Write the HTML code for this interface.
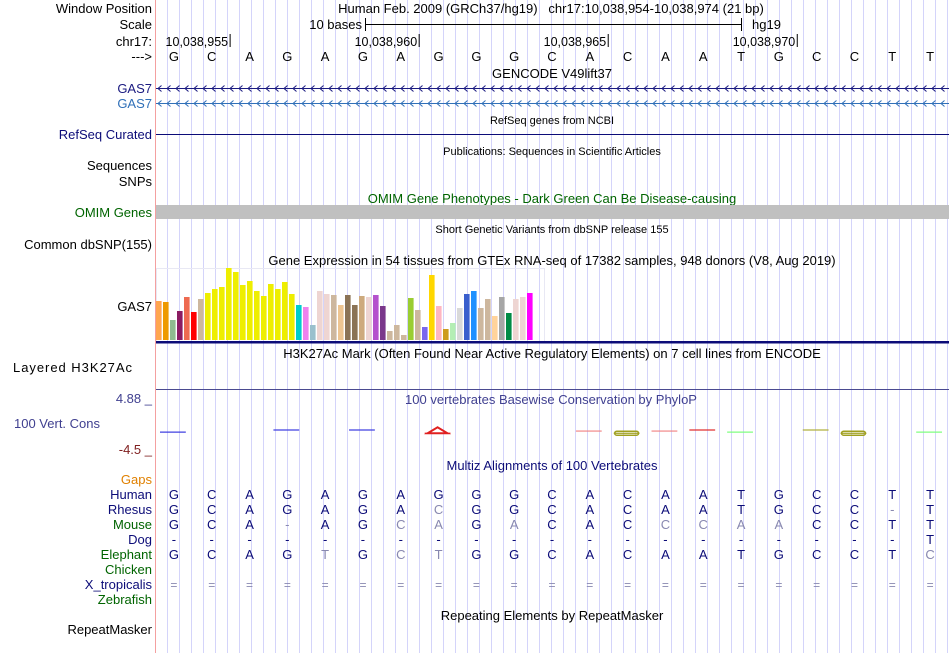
<!DOCTYPE html>
<html><head><meta charset="utf-8">
<style>
body{margin:0;background:#fff;}
svg{display:block;font-family:"Liberation Sans",Arial,sans-serif;}
</style></head>
<body>
<svg id="c" width="950" height="653" viewBox="0 0 950 653" xmlns="http://www.w3.org/2000/svg">
<g id="grid"></g>
<line x1="155.5" y1="0" x2="155.5" y2="653" stroke="#f4a0a0"/>
<g font-size="13" text-anchor="end" fill="#000">
<text x="152" y="13">Window Position</text>
<text x="152" y="29">Scale</text>
<text x="152" y="46">chr17:</text>
<text x="152" y="61">---&gt;</text>
<text x="152" y="93" fill="#1a1a80">GAS7</text>
<text x="152" y="108" fill="#3070b8">GAS7</text>
<text x="152" y="139" fill="#0c0c78">RefSeq Curated</text>
<text x="152" y="170">Sequences</text>
<text x="152" y="186">SNPs</text>
<text x="152" y="217" fill="#006400">OMIM Genes</text>
<text x="152" y="249">Common dbSNP(155)</text>
<text x="152" y="311">GAS7</text>
<text x="132" y="372" textLength="119">Layered H3K27Ac</text>
<text x="152" y="403" fill="#404090">4.88 _</text>
<text x="100" y="428" fill="#404090">100 Vert. Cons</text>
<text x="152" y="454" fill="#802020">-4.5 _</text>
<text x="152" y="484" fill="#e08000">Gaps</text>
<text x="152" y="499" fill="#0c0c78">Human</text>
<text x="152" y="514" fill="#0c0c78">Rhesus</text>
<text x="152" y="529" fill="#006400">Mouse</text>
<text x="152" y="544" fill="#0c0c78">Dog</text>
<text x="152" y="559" fill="#006400">Elephant</text>
<text x="152" y="574" fill="#006400">Chicken</text>
<text x="152" y="589" fill="#0c0c78">X_tropicalis</text>
<text x="152" y="604" fill="#006400">Zebrafish</text>
<text x="152" y="634">RepeatMasker</text>
</g>
<g font-size="13" text-anchor="middle">
<text x="551" y="13">Human Feb. 2009 (GRCh37/hg19)&#160;&#160;&#160;chr17:10,038,954-10,038,974 (21 bp)</text>
<text x="552" y="78">GENCODE V49lift37</text>
<text x="552" y="124" font-size="11">RefSeq genes from NCBI</text>
<text x="552" y="155" font-size="11">Publications: Sequences in Scientific Articles</text>
<text x="552" y="203" fill="#006400">OMIM Gene Phenotypes - Dark Green Can Be Disease-causing</text>
<text x="552" y="233" font-size="11">Short Genetic Variants from dbSNP release 155</text>
<text x="552" y="265">Gene Expression in 54 tissues from GTEx RNA-seq of 17382 samples, 948 donors (V8, Aug 2019)</text>
<text x="552" y="358">H3K27Ac Mark (Often Found Near Active Regulatory Elements) on 7 cell lines from ENCODE</text>
<text x="551" y="404" fill="#404090">100 vertebrates Basewise Conservation by PhyloP</text>
<text x="552" y="470" fill="#0c0c78">Multiz Alignments of 100 Vertebrates</text>
<text x="552" y="620">Repeating Elements by RepeatMasker</text>
</g>
<text x="362" y="29" font-size="13" text-anchor="end">10 bases</text>
<line x1="365" y1="24.5" x2="742" y2="24.5" stroke="#000"/>
<line x1="365.5" y1="18" x2="365.5" y2="31" stroke="#000"/>
<line x1="741.5" y1="18" x2="741.5" y2="31" stroke="#000"/>
<text x="752" y="29" font-size="13">hg19</text>
<rect x="156" y="205" width="793" height="14" fill="#c0c0c0"/>
<line x1="156" y1="134.5" x2="949" y2="134.5" stroke="#0c0c78"/>
<line x1="156" y1="389.5" x2="949" y2="389.5" stroke="#4a4a90"/>
<rect x="156.5" y="268.5" width="388" height="73" fill="none" stroke="#e8e8f4"/>
<rect x="156" y="341" width="793" height="2.5" fill="#0c0c78"/>
<g id="ruler"></g><g id="genes"></g><g id="gtex"></g><g id="cons"></g><g id="maf"></g>
</svg>
<script>
const NS='http://www.w3.org/2000/svg';
const bases=['G','C','A','G','A','G','A','G','G','G','C','A','C','A','A','T','G','C','C','T','T'];
const rhesus=['G','C','A','G','A','G','A','C','G','G','C','A','C','A','A','T','G','C','C','-','T'];
const mouse=['G','C','A','-','A','G','C','A','G','A','C','A','C','C','C','A','A','C','C','T','T'];
const dog=['-','-','-','-','-','-','-','-','-','-','-','-','-','-','-','-','-','-','-','-','T'];
const elephant=['G','C','A','G','T','G','C','T','G','G','C','A','C','A','A','T','G','C','C','T','C'];
const coordLabels=['10,038,955','10,038,960','10,038,965','10,038,970'];
const coordBaseIdx=[1,6,11,16];
const gtexValues=[117,114,60,87,129,84,123,141,153,159,216,204,165,177,147,132,168,153,174,138,105,99,45,147,138,135,105,135,105,132,129,135,102,27,45,15,126,90,39,195,102,33,51,96,138,147,96,123,72,129,81,123,129,141];
const gtexColors=['#FFA54F','#EE9A00','#8FBC8F','#8B1C62','#EE6A50','#FF0000','#CDB79E','#EEEE00','#EEEE00','#EEEE00','#EEEE00','#EEEE00','#EEEE00','#EEEE00','#EEEE00','#EEEE00','#EEEE00','#EEEE00','#EEEE00','#EEEE00','#00CDCD','#EE82EE','#9AC0CD','#EED5D2','#EED5D2','#CDB79E','#EEC591','#8B7355','#8B7355','#CDAA7D','#EED5D2','#B452CD','#7A378B','#CDB79E','#CDB79E','#CDB79E','#9ACD32','#CDB79E','#7A67EE','#FFD700','#FFB6C1','#CD9B1D','#B4EEB4','#D9D9D9','#3A5FCD','#1E90FF','#CDB79E','#CDB79E','#FFD39B','#A6A6A6','#008B45','#EED5D2','#EED5D2','#FF00FF'];
const consBase=[0,3,5,7,11,12,13,14,15,17,18,20];
const consValue=[-1.4,-1.0,-1.0,-1.6,-1.2,-1.6,-1.2,-1.0,-1.4,-1.0,-1.6,-1.4];
const consColor=['#4040e0','#4040e0','#4040e0','#e02020','#f08080','#a0a020','#f08080','#e03030','#80ff80','#b0b040','#a0a020','#80ff80'];

const X0=155, BW=(949-155)/21;
const bx=i=>X0+BW*(i+0.5);
function mk(tag,attrs,parent,txt){const e=document.createElementNS(NS,tag);for(const k in attrs)e.setAttribute(k,attrs[k]);if(txt!=null)e.textContent=txt;document.getElementById(parent).appendChild(e);return e;}

for(let x=167;x<950;x+=12){
 const l=mk('line',{x1:x+0.5,y1:0,x2:x+0.5,y2:653,stroke:'#d4d4fa'},'grid');
 
 
}
coordLabels.forEach((t,k)=>{
 const x=X0+BW*coordBaseIdx[k]+BW-0.5;
 const tx=mk('text',{x:x-2,y:46,'font-size':12.5,'text-anchor':'end'},'ruler',t);
 
 
 mk('line',{x1:x,y1:34,x2:x,y2:47,stroke:'#000'},'ruler');
});
bases.forEach((b,i)=>{
 const t=mk('text',{x:bx(i),y:61,'font-size':13,'text-anchor':'middle'},'ruler',b);
 
 
});
[[88,'#1a1a80'],[103,'#3070b8']].forEach(([y,c],k)=>{
 const l=mk('line',{x1:156,y1:y+0.5,x2:949,y2:y+0.5,stroke:c},'genes');
 
 
 let p='';for(let x=158;x<946;x+=9){p+=`M${x+3.5},${y-2.5}L${x},${y+0.5}L${x+3.5},${y+3.5}`;}
 mk('path',{d:p,stroke:c,fill:'none','stroke-width':1},'genes');
});
const maxV=216, gBase=340, gH=72, gW=7.0;
gtexValues.forEach((v,i)=>{
 const h=v/maxV*gH;
 const r=mk('rect',{x:156+i*gW,y:gBase-h,width:5.6,height:h,fill:gtexColors[i]},'gtex');
 
 
});
const cy=v=>398+(4.88-v)/(4.88+4.5)*51;
consBase.forEach((b,k)=>{
 const x1=X0+BW*b+5,x2=X0+BW*(b+1)-7,y=cy(consValue[k]);
 const l=mk('line',{x1:x1,y1:y,x2:x2,y2:y,stroke:consColor[k],'stroke-width':1.2},'cons');
 
 
 if(b===7){mk('path',{d:`M${x1+3},${y}L${(x1+x2)/2},${y-6}L${x2-3},${y}Z`,stroke:'#e02020',fill:'none','stroke-width':2},'cons');}
 if(b===12||b===18){mk('rect',{x:x1+1,y:y-2,width:x2-x1-2,height:4,rx:2,stroke:consColor[k],fill:'none','stroke-width':1.5},'cons');}
});
const rows=[[bases,499],[rhesus,514],[mouse,529],[dog,544],[elephant,559]];
rows.forEach(([seq,y],r)=>{
 seq.forEach((c,i)=>{
  const light = r>0 && c!==bases[i] && !(r===3&&c==='-');
  const t=mk('text',{x:bx(i),y:y,'font-size':13,'text-anchor':'middle',fill:light?'#8888b0':'#0c0c78'},'maf',c);
  
  
 });
});
bases.forEach((b,i)=>{
 const t=mk('text',{x:bx(i),y:589,'font-size':12,'text-anchor':'middle',fill:'#8888b0'},'maf','=');
 
 
});
</script>
</body></html>
